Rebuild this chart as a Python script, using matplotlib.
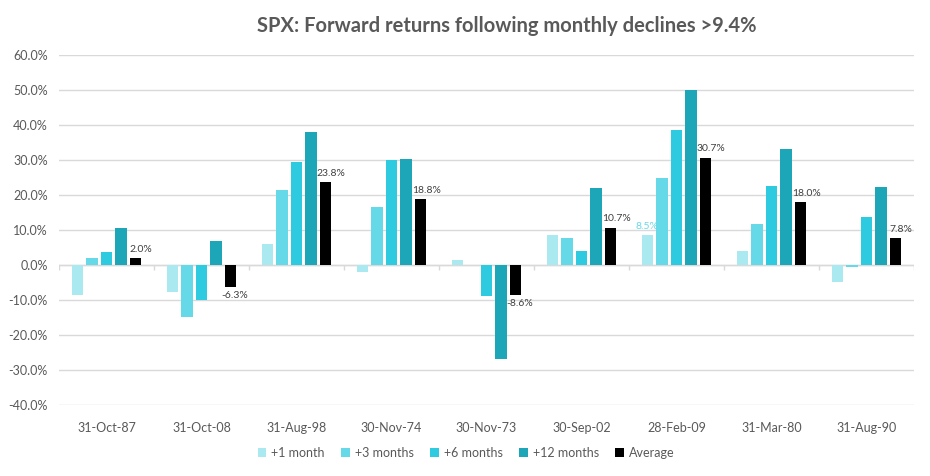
import numpy as np
import matplotlib
matplotlib.use("Agg")
import matplotlib.pyplot as plt
from matplotlib.ticker import FuncFormatter

dates = ["31-Oct-87", "31-Oct-08", "31-Aug-98", "30-Nov-74", "30-Nov-73",
         "30-Sep-02", "28-Feb-09", "31-Mar-80", "31-Aug-90"]

m1 = [-8.6, -7.6, 6.1, -2.1, 1.4, 8.6, 8.5, 4.0, -5.0]
m3 = [2.1, -14.8, 21.4, 16.6, 0.0, 7.7, 24.9, 11.7, -0.5]
m6 = [3.8, -10.0, 29.4, 30.0, -9.0, 4.0, 38.6, 22.6, 13.7]
m12 = [10.6, 6.9, 38.0, 30.3, -26.9, 22.0, 50.0, 33.1, 22.3]
average = [2.0, -6.3, 23.8, 18.8, -8.6, 10.7, 30.7, 18.0, 7.8]

series = [
    ("+1 month", m1, "#ABE9F1"),
    ("+3 months", m3, "#66D9E8"),
    ("+6 months", m6, "#2ECBE0"),
    ("+12 months", m12, "#1DA6B8"),
    ("Average", average, "#000000"),
]

plt.rcParams["font.family"] = ["Lato", "DejaVu Sans"]
text_col = "#595959"
grid_col = "#D9D9D9"

fig = plt.figure(figsize=(9.3, 4.76), dpi=100)
ax = fig.add_axes([59 / 930, 1 - 405 / 476, 855 / 930, 350 / 476])

x = np.arange(len(dates))
pitch = 0.153
width = 0.122
for i, (label, vals, col) in enumerate(series):
    off = (i - 2) * pitch
    ax.bar(x + off, vals, width, color=col, label=label, zorder=3)

# average labels
for xi, v in zip(x, average):
    if v >= 0:
        ax.annotate(f"{v:.1f}%", (xi + 2 * pitch, v), xytext=(4, 3),
                    textcoords="offset points", ha="center", va="bottom",
                    fontsize=7.5, color="#404040")
    else:
        ax.annotate(f"{v:.1f}%", (xi + 2 * pitch, v), xytext=(3, -3),
                    textcoords="offset points", ha="center", va="top",
                    fontsize=7.5, color="#404040")

# single highlighted label on +1 month for 28-Feb-09
k = dates.index("28-Feb-09")
ax.annotate(f"{m1[k]:.1f}%", (x[k] - 2 * pitch, m1[k]), xytext=(0, 3),
            textcoords="offset points", ha="center", va="bottom",
            fontsize=7.5, color="#66D9E8")

ax.set_xlim(-0.5, len(dates) - 0.5)
ax.set_ylim(-40, 60)
ax.set_yticks(np.arange(-40, 61, 10))
ax.yaxis.set_major_formatter(FuncFormatter(lambda v, p: f"{v:.1f}%"))
ax.grid(axis="y", color=grid_col, linewidth=1, zorder=0)
ax.axhline(0, color=grid_col, linewidth=1, zorder=2)
ax.vlines(np.arange(-0.5, len(dates)), -1.3, 0, color=grid_col, linewidth=1, zorder=2)

ax.set_xticks(x)
ax.set_xticklabels(dates)
ax.tick_params(axis="both", length=0, labelsize=9, colors=text_col)
ax.tick_params(axis="x", pad=12)
ax.tick_params(axis="y", pad=8)
for s in ax.spines.values():
    s.set_visible(False)

fig.text(507 / 930, 1 - 26 / 476, "SPX: Forward returns following monthly declines >9.4%",
         ha="center", va="center", fontsize=14.5, fontweight="bold", color=text_col)

leg = fig.legend(loc="center", bbox_to_anchor=(466 / 930, 1 - 453 / 476), ncol=5,
                 frameon=False, fontsize=9, handlelength=0.7, handleheight=0.7,
                 handletextpad=0.4, columnspacing=1.3)
for t in leg.get_texts():
    t.set_color(text_col)

fig.savefig("out.png", dpi=100)
